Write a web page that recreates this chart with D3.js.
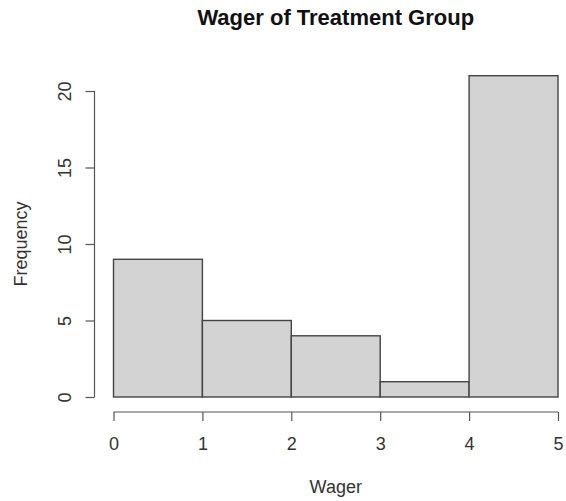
<!DOCTYPE html>
<html>
<head>
<meta charset="UTF-8">
<title>Wager of Treatment Group</title>
<style>
  body { margin: 0; background: #fff; }
  svg text { font-family: "Liberation Sans", Arial, sans-serif; fill: #333; }
  .axis path, .axis line { stroke: #555; stroke-width: 1.2; }
</style>
</head>
<body>
<div id="chart"></div>
<script src="https://d3js.org/d3.v7.min.js"></script>
<script>
var binStarts = [0, 1, 2, 3, 4];
var binEnds = [1, 2, 3, 4, 5];
var counts = [9, 5, 4, 1, 21];
var xTicks = [0, 1, 2, 3, 4, 5];
var yTicks = [0, 5, 10, 15, 20];

var w = 566, h = 501;

var svg = d3.select("#chart").append("svg")
  .attr("width", w)
  .attr("height", h);

var x = d3.scaleLinear().domain([0, 5]).range([113.5, 558]);
var y = d3.scaleLinear().domain([0, 20]).range([397, 91]);

// bars
svg.selectAll("rect.bar")
  .data(counts)
  .enter().append("rect")
  .attr("class", "bar")
  .attr("x", function(d, i){ return x(binStarts[i]); })
  .attr("width", function(d, i){ return x(binEnds[i]) - x(binStarts[i]); })
  .attr("y", function(d){ return y(d); })
  .attr("height", function(d){ return y(0) - y(d); })
  .attr("fill", "#d3d3d3")
  .attr("stroke", "#444")
  .attr("stroke-width", 1.4);

// x axis
var xAxis = d3.axisBottom(x).tickValues(xTicks).tickFormat(d3.format("d"))
  .tickSize(9).tickPadding(16).tickSizeOuter(0);
var gx = svg.append("g")
  .attr("class", "axis")
  .attr("transform", "translate(0,412)")
  .call(xAxis);
gx.selectAll("text").style("font-size", "18px");
gx.select(".domain").attr("d", "M" + x(0) + ",0H" + x(5));

// y axis
var yAxis = d3.axisLeft(y).tickValues(yTicks).tickFormat(d3.format("d"))
  .tickSize(9).tickPadding(8).tickSizeOuter(0);
var gy = svg.append("g")
  .attr("class", "axis")
  .attr("transform", "translate(94.5,0)")
  .call(yAxis);
gy.select(".domain").attr("d", "M0," + y(0) + "V" + y(20));
gy.selectAll("text")
  .style("font-size", "18px")
  .attr("text-anchor", "middle")
  .attr("x", null)
  .attr("transform", "translate(-30,0) rotate(-90)")
  .attr("dy", "0.35em");

// titles
svg.append("text")
  .attr("x", (x(0) + x(5)) / 2)
  .attr("y", 25)
  .attr("text-anchor", "middle")
  .style("font-size", "22px")
  .style("font-weight", "bold")
  .style("fill", "#111")
  .text("Wager of Treatment Group");

svg.append("text")
  .attr("x", (x(0) + x(5)) / 2)
  .attr("y", 493)
  .attr("text-anchor", "middle")
  .style("font-size", "18px")
  .text("Wager");

svg.append("text")
  .attr("transform", "translate(21," + ((y(0) + y(20)) / 2) + ") rotate(-90)")
  .attr("text-anchor", "middle")
  .attr("dy", "0.35em")
  .style("font-size", "18px")
  .text("Frequency");
</script>
</body>
</html>
